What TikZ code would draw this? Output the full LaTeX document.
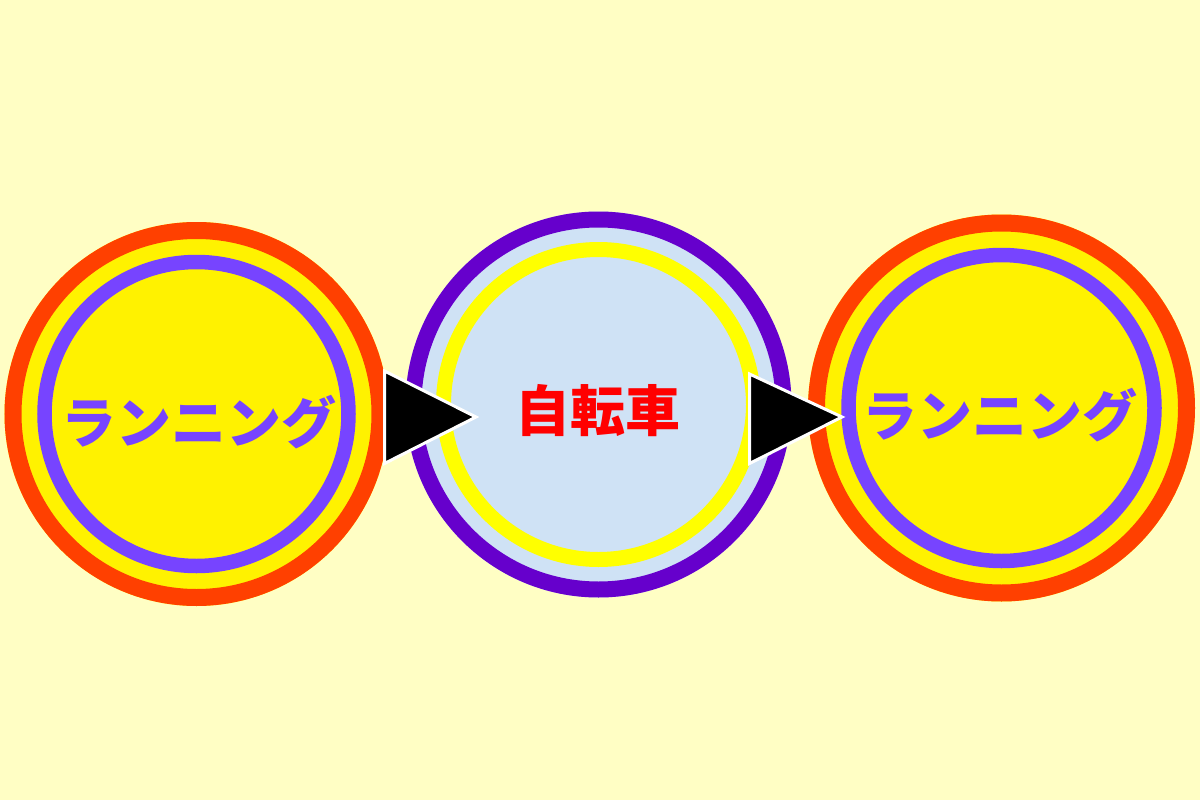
\documentclass[tikz,border=0pt]{standalone}
\usepackage{fontspec}
\newfontfamily\cjk{Noto Sans CJK JP}
\definecolor{bg}{HTML}{FFFEC4}
\definecolor{ringred}{HTML}{FF4000}
\definecolor{coinyellow}{HTML}{FFF200}
\definecolor{lightpurple}{HTML}{7744FF}
\definecolor{darkpurple}{HTML}{6600CC}
\definecolor{paleblue}{HTML}{CFE2F5}
\definecolor{brightyellow}{HTML}{FFFF00}
\definecolor{textred}{HTML}{FF0000}
\tikzset{
  label font/.style={font=\cjk\bfseries\fontsize{55}{60}\selectfont, inner sep=0pt},
  arrowtri/.style={draw=white, fill=black, line width=3pt, line join=miter},
}
\begin{document}
\begin{tikzpicture}[x=1pt,y=-1pt]
\fill[bg] (0,0) rectangle (1200,800);
\useasboundingbox (0,0) rectangle (1200,800);
% left circle
\coordinate (c1) at (196.5,414);
\fill[coinyellow] (c1) circle[radius=192pt];
\draw[ringred, line width=17pt] (c1) circle[radius=183.5pt];
\draw[lightpurple, line width=14.5pt] (c1) circle[radius=152pt];
\node[label font, text=lightpurple] (t1) at (199,422) {ランニング};
% middle circle
\coordinate (c2) at (598.5,404.5);
\fill[paleblue] (c2) circle[radius=193pt];
\draw[darkpurple, line width=16pt] (c2) circle[radius=185pt];
\draw[brightyellow, line width=15pt] (c2) circle[radius=155pt];
\node[label font, text=textred] (t2) at (597.5,411) {自転車};
% right circle
\coordinate (c3) at (1001.5,408);
\fill[coinyellow] (c3) circle[radius=193.5pt];
\draw[ringred, line width=17pt] (c3) circle[radius=185pt];
\draw[lightpurple, line width=14.5pt] (c3) circle[radius=153pt];
\node[label font, text=lightpurple] (t3) at (1000,415) {ランニング};
% arrows
\draw[arrowtri] (384.5,371) -- (476,417) -- (384.5,463.5) -- cycle;
\draw[arrowtri] (749.5,374) -- (842,417) -- (749.5,463.5) -- cycle;
\end{tikzpicture}
\end{document}
